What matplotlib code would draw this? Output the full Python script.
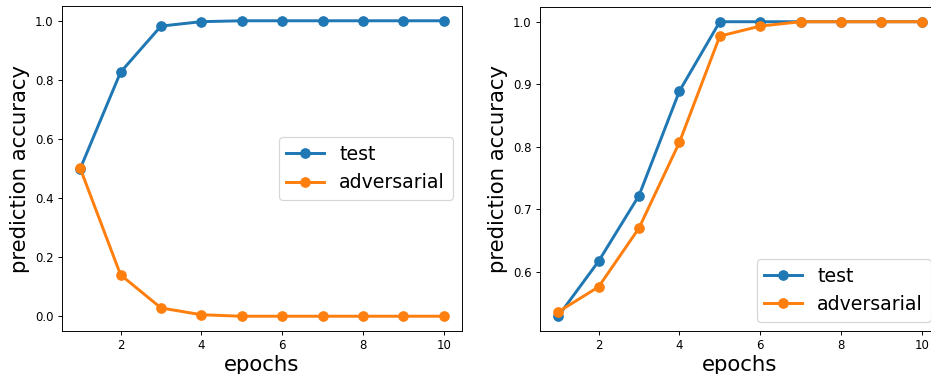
import matplotlib
matplotlib.use("Agg")
import matplotlib.pyplot as plt

epochs = [1, 2, 3, 4, 5, 6, 7, 8, 9, 10]

# left panel
test_a = [0.499, 0.826, 0.982, 0.997, 1.0, 1.0, 1.0, 1.0, 1.0, 1.0]
adv_a = [0.501, 0.140, 0.028, 0.005, 0.0, 0.0, 0.0, 0.0, 0.0, 0.0]

# right panel
test_b = [0.529, 0.617, 0.722, 0.889, 1.0, 1.0, 1.0, 1.0, 1.0, 1.0]
adv_b = [0.536, 0.576, 0.670, 0.807, 0.977, 0.993, 1.0, 1.0, 1.0, 1.0]

W, H = 931, 374
dpi = 85
fig = plt.figure(figsize=(W / dpi, H / dpi), dpi=dpi)

ax1 = fig.add_axes([62 / W, (H - 331) / H, 400 / W, 325 / H])
ax2 = fig.add_axes([540 / W, (H - 331) / H, 400 / W, 324 / H])

for ax, t, a, loc in [(ax1, test_a, adv_a, "center right"),
                      (ax2, test_b, adv_b, "lower right")]:
    ax.plot(epochs, t, "-o", color="#1f77b4", lw=2.5, ms=8, label="test")
    ax.plot(epochs, a, "-o", color="#ff7f0e", lw=2.5, ms=8, label="adversarial")
    ax.set_xlabel("epochs", fontsize=18, labelpad=2)
    ax.set_ylabel("prediction accuracy", fontsize=18)
    ax.set_xticks([2, 4, 6, 8, 10])
    ax.tick_params(labelsize=10)
    ax.legend(loc=loc, fontsize=16)

fig.savefig("out.png", dpi=dpi)
